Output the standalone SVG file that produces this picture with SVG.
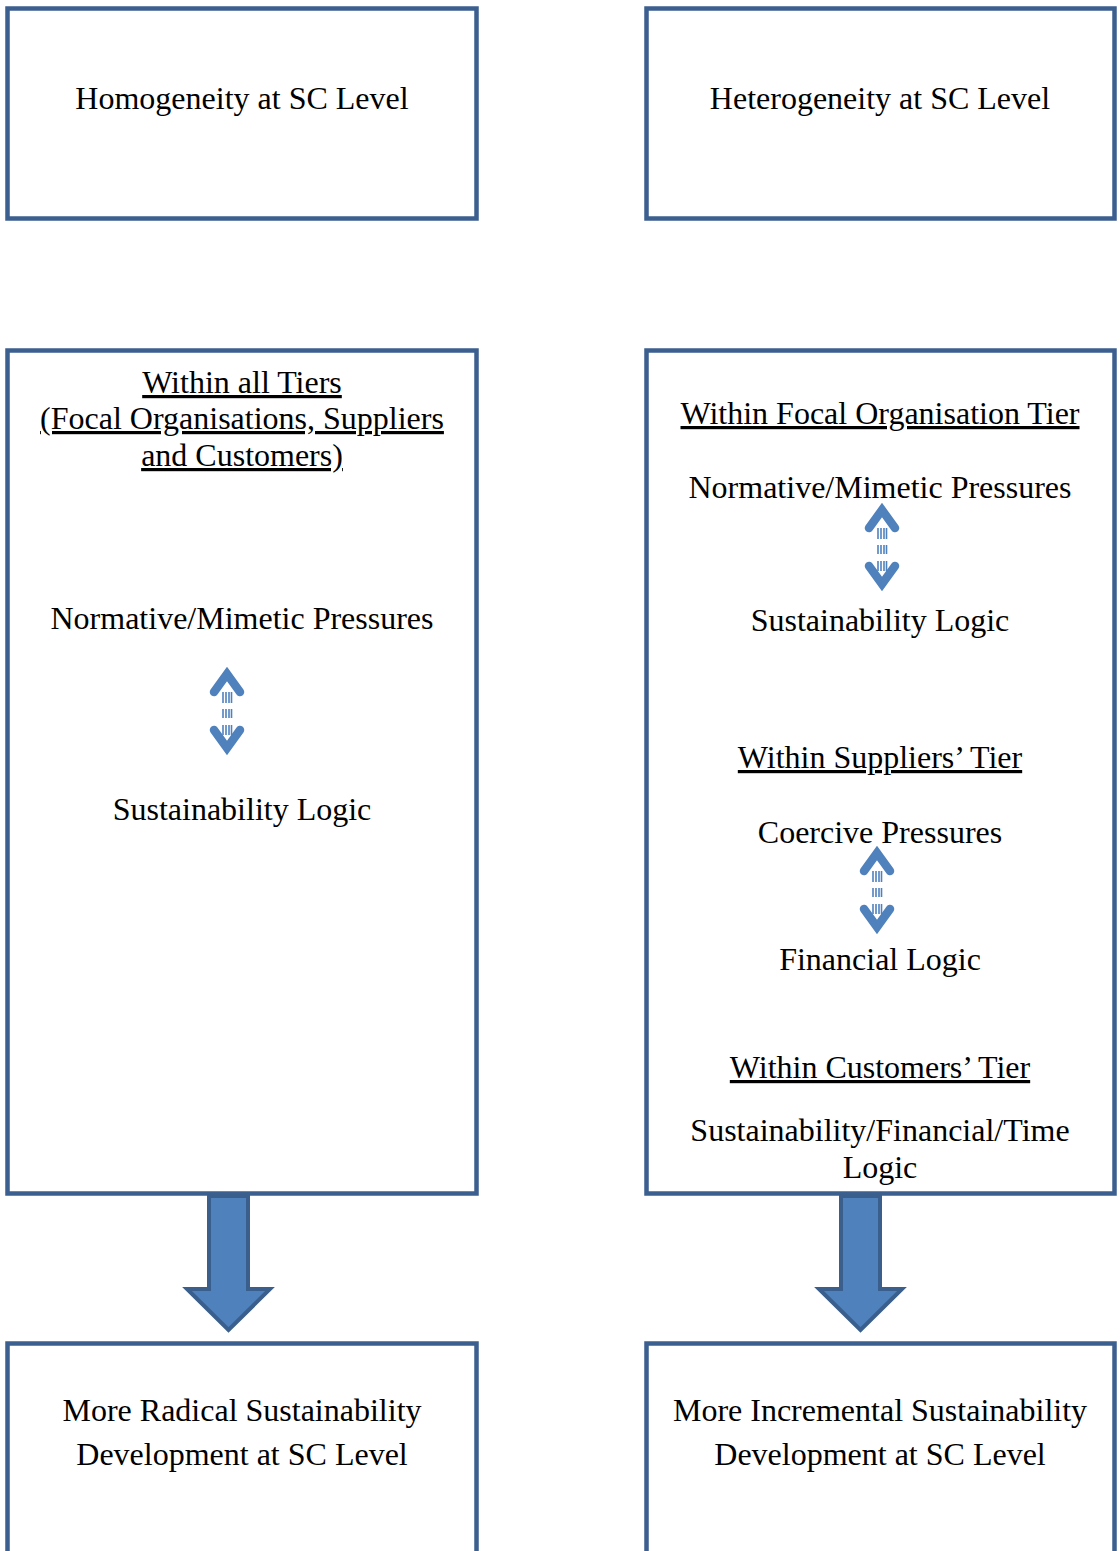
<svg xmlns="http://www.w3.org/2000/svg" xmlns:xlink="http://www.w3.org/1999/xlink" width="1120" height="1551" viewBox="0 0 1120 1551">
<style>
.box{fill:#ffffff;stroke:#3B5F8E;stroke-width:4.5}
.t{font-family:"Liberation Serif","Times New Roman",serif;font-size:32px;fill:#000;text-anchor:middle}
.u{text-decoration:underline;text-decoration-skip-ink:none}
.big{fill:#4F81BD;stroke:#3A5F8C;stroke-width:4;stroke-linejoin:miter}
.chev{fill:none;stroke:#4F81BD;stroke-width:8.5;stroke-linecap:round;stroke-linejoin:miter}
.str{stroke:#4F81BD;stroke-width:1.6}
</style>
<defs>
<g id="dbl">
<path d="M-13,23 L0,5 L13,23" class="chev"/>
<path d="M-13,61 L0,79 L13,61" class="chev"/>
<g class="str">
<line x1="-4" y1="23" x2="-4" y2="34"/><line x1="-1" y1="23" x2="-1" y2="34"/><line x1="2" y1="23" x2="2" y2="34"/><line x1="4.5" y1="23" x2="4.5" y2="34"/>
<line x1="-4" y1="40" x2="-4" y2="49"/><line x1="-1" y1="40" x2="-1" y2="49"/><line x1="2" y1="40" x2="2" y2="49"/><line x1="4.5" y1="40" x2="4.5" y2="49"/>
<line x1="-4" y1="56" x2="-4" y2="66"/><line x1="-1" y1="56" x2="-1" y2="66"/><line x1="2" y1="56" x2="2" y2="66"/><line x1="4.5" y1="56" x2="4.5" y2="66"/>
</g>
</g>
</defs>
<g id="node-homogeneity">
<rect class="box" x="7.5" y="8.5" width="469" height="210"/>
<text class="t" x="242" y="109">Homogeneity at SC Level</text>
</g>
<g id="node-heterogeneity">
<rect class="box" x="646.5" y="8.5" width="468" height="210"/>
<text class="t" x="880" y="109">Heterogeneity at SC Level</text>
</g>
<g id="node-left-tiers">
<rect class="box" x="7.5" y="350.5" width="469" height="843"/>
<text class="t u" x="242" y="393">Within all Tiers</text>
<text class="t u" x="242" y="429">(Focal Organisations, Suppliers</text>
<text class="t u" x="242" y="466">and Customers)</text>
<text class="t" x="242" y="629">Normative/Mimetic Pressures</text>
<use xlink:href="#dbl" x="227" y="669"/>
<text class="t" x="242" y="820">Sustainability Logic</text>
</g>
<g id="node-right-tiers">
<rect class="box" x="646.5" y="350.5" width="468" height="843"/>
<text class="t u" x="880" y="424">Within Focal Organisation Tier</text>
<text class="t" x="880" y="498">Normative/Mimetic Pressures</text>
<use xlink:href="#dbl" x="882" y="505"/>
<text class="t" x="880" y="631">Sustainability Logic</text>
<text class="t u" x="880" y="768">Within Suppliers’ Tier</text>
<text class="t" x="880" y="843">Coercive Pressures</text>
<use xlink:href="#dbl" x="877" y="848"/>
<text class="t" x="880" y="970">Financial Logic</text>
<text class="t u" x="880" y="1078">Within Customers’ Tier</text>
<text class="t" x="880" y="1141">Sustainability/Financial/Time</text>
<text class="t" x="880" y="1178">Logic</text>
</g>
<g id="node-radical">
<rect class="box" x="7.5" y="1343.5" width="469" height="210"/>
<text class="t" x="242" y="1421">More Radical Sustainability</text>
<text class="t" x="242" y="1465">Development at SC Level</text>
</g>
<g id="node-incremental">
<rect class="box" x="646.5" y="1343.5" width="468" height="210"/>
<text class="t" x="880" y="1421">More Incremental Sustainability</text>
<text class="t" x="880" y="1465">Development at SC Level</text>
</g>
<g id="connectors">
<path class="big" d="M209,1196 L248,1196 L248,1289 L270,1289 L228.5,1330 L187,1289 L209,1289 Z"/>
<path class="big" d="M841,1196 L880,1196 L880,1289 L902,1289 L860.5,1330 L819,1289 L841,1289 Z"/>
</g>
</svg>
